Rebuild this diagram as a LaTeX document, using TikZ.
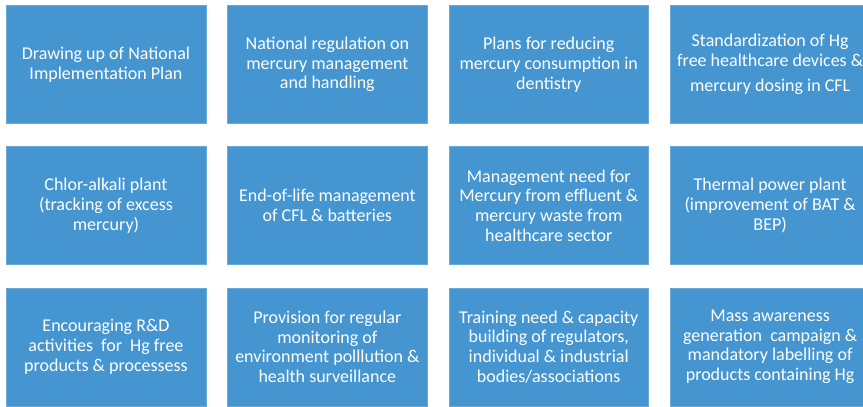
\documentclass[tikz,border=0pt]{standalone}
\usepackage{fontspec}
\setmainfont{Carlito}
\usepackage{xcolor}
\usepackage{tikz}
\usetikzlibrary{positioning}
\definecolor{boxblue}{RGB}{69,149,208}
\tikzstyle{action} = [rectangle, minimum width=199.5pt, minimum height=118pt, inner sep=0pt, text centered, draw=boxblue!80!white, fill=boxblue, text=white, align=center, font=\fontsize{18}{19.7}\selectfont]

\begin{document}
\begin{tikzpicture}[node distance=22.7pt and 21.5pt]
            \useasboundingbox (0,0) rectangle (863pt,-407pt);
            % first row
            \node[action, anchor=north west] (plan) at (6pt,-5.3pt) {Drawing up of National\\Implementation Plan};
            \node[action, right=of plan] (regulation) {National regulation on\\mercury management\\and handling};
            \node[action, right=of regulation] (dentistry) {Plans for reducing\\mercury consumption in\\dentistry};
            \node[action, right=of dentistry] (devices) {Standardization of Hg\\free healthcare devices \&\\[6pt]mercury dosing in CFL};
            % second row
            \node[action, below=of plan] (chloralkali) {Chlor-alkali plant\\(tracking of excess\\mercury)};
            \node[action, right=of chloralkali] (endoflife) {End-of-life management\\of CFL \& batteries};
            \node[action, right=of endoflife] (effluent) {Management need for\\Mercury from effluent \&\\mercury waste from\\healthcare sector};
            \node[action, right=of effluent] (thermal) {Thermal power plant\\(improvement of BAT \&\\BEP)};
            % third row
            \node[action, below=of chloralkali] (research) {Encouraging R\&D\\activities\ \ for\ \ Hg free\\products \& processess};
            \node[action, right=of research] (monitoring) {Provision for regular\\monitoring of\\environment polllution \&\\health surveillance};
            \node[action, right=of monitoring] (training) {Training need \& capacity\\building of regulators,\\individual \& industrial\\bodies/associations};
            \node[action, right=of training] (awareness) {Mass awareness\\generation\ \ campaign \&\\mandatory labelling of\\products containing Hg};
        \end{tikzpicture}
\end{document}
